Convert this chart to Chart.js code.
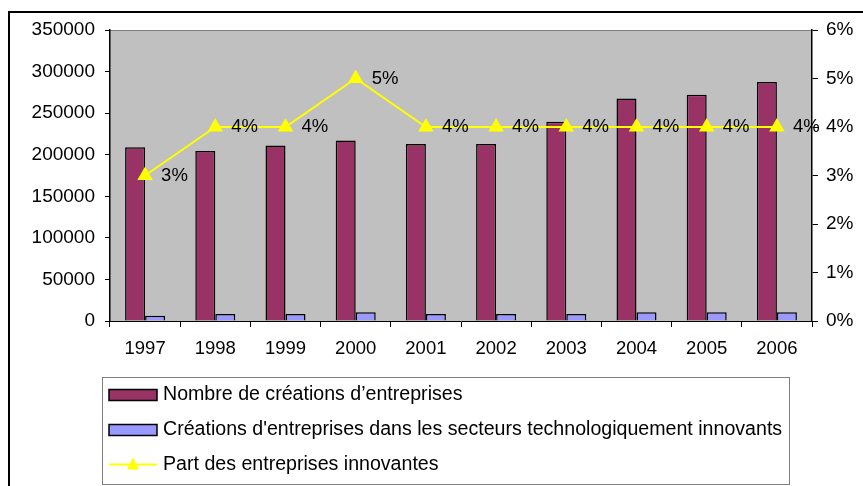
<!DOCTYPE html>
<html>
<head>
<meta charset="utf-8">
<script src="https://cdn.jsdelivr.net/npm/chart.js@4.4.0/dist/chart.umd.min.js"></script>
<style>
  html, body { margin: 0; padding: 0; background: #fff; }
  #wrap { width: 863px; height: 486px; position: relative; }
</style>
</head>
<body>
<div id="wrap"><canvas id="chart" width="863" height="486"></canvas></div>
<script>
const years = ["1997", "1998", "1999", "2000", "2001", "2002", "2003", "2004", "2005", "2006"];
const creations = [209000, 204500, 211000, 217000, 213000, 213000, 239500, 267500, 272000, 287500];
const creationsInnov = [6400, 8400, 8400, 10500, 8400, 8400, 8400, 10500, 10500, 10500];
const partInnov = [3, 4, 4, 5, 4, 4, 4, 4, 4, 4];
const seriesNames = [
    "Nombre de créations d’entreprises",
    "Créations d'entreprises dans les secteurs technologiquement innovants",
    "Part des entreprises innovantes"
];

const FONT = "'Liberation Sans', Arial, sans-serif";

// grey plot background + outer frame
const backdrop = {
    id: "backdrop",
    beforeDraw(chart) {
        const { ctx, chartArea: a } = chart;
        ctx.save();
        ctx.fillStyle = "#fff";
        ctx.fillRect(0, 0, chart.width, chart.height);
        ctx.strokeStyle = "#000";
        ctx.lineWidth = 2;
        ctx.strokeRect(9, 12, 880, 500);
        ctx.fillStyle = "#C0C0C0";
        ctx.fillRect(a.left, a.top, a.right - a.left, a.bottom - a.top);
        ctx.strokeStyle = "#808080";
        ctx.lineWidth = 1;
        ctx.beginPath();
        ctx.moveTo(a.left, a.top + 0.5);
        ctx.lineTo(a.right, a.top + 0.5);
        ctx.stroke();
        ctx.restore();
    }
};

// percent labels next to the line points
const pointLabels = {
    id: "pointLabels",
    afterDatasetsDraw(chart) {
        const { ctx } = chart;
        const meta = chart.getDatasetMeta(2);
        ctx.save();
        ctx.font = "18.5px " + FONT;
        ctx.fillStyle = "#000";
        ctx.textBaseline = "middle";
        ctx.textAlign = "left";
        meta.data.forEach((p, i) => {
            ctx.fillText(partInnov[i] + "%", p.x + 16, p.y);
        });
        ctx.restore();
    }
};

// boxed legend under the chart
const boxLegend = {
    id: "boxLegend",
    afterDraw(chart) {
        const { ctx } = chart;
        const ds = chart.data.datasets;
        ctx.save();
        ctx.strokeStyle = "#808080";
        ctx.lineWidth = 1;
        ctx.strokeRect(102.5, 377.5, 687, 107);
        const rows = [395, 430, 464.5];
        ctx.font = "19.6px " + FONT;
        ctx.textBaseline = "middle";
        ds.forEach((d, i) => {
            const y = rows[i];
            if (d.type === "line") {
                ctx.strokeStyle = d.borderColor;
                ctx.lineWidth = 2;
                ctx.beginPath();
                ctx.moveTo(109, y);
                ctx.lineTo(157, y);
                ctx.stroke();
                ctx.fillStyle = d.pointBackgroundColor;
                ctx.beginPath();
                ctx.moveTo(133, y - 7);
                ctx.lineTo(139, y + 5);
                ctx.lineTo(127, y + 5);
                ctx.closePath();
                ctx.fill();
            } else {
                ctx.fillStyle = d.backgroundColor;
                ctx.fillRect(109, y - 5.5, 48, 11);
                ctx.strokeStyle = "#000";
                ctx.lineWidth = 1.5;
                ctx.strokeRect(109, y - 5.5, 48, 11);
            }
            ctx.fillStyle = "#000";
            ctx.fillText(d.label, 163, y);
        });
        ctx.restore();
    }
};

new Chart(document.getElementById("chart"), {
    data: {
        labels: years,
        datasets: [
            {
                type: "bar",
                label: seriesNames[0],
                data: creations,
                backgroundColor: "#993366",
                borderColor: "#000",
                borderWidth: 1.5,
                yAxisID: "y",
                order: 1
            },
            {
                type: "bar",
                label: seriesNames[1],
                data: creationsInnov,
                backgroundColor: "#9999FF",
                borderColor: "#000",
                borderWidth: 1.5,
                yAxisID: "y",
                order: 1
            },
            {
                type: "line",
                label: seriesNames[2],
                data: partInnov,
                borderColor: "#FFFF00",
                borderWidth: 2,
                pointStyle: "triangle",
                pointRadius: 7,
                pointBackgroundColor: "#FFFF00",
                pointBorderColor: "#FFFF00",
                yAxisID: "y1",
                order: 0
            }
        ]
    },
    options: {
        responsive: false,
        animation: false,
        datasets: {
            bar: { categoryPercentage: 0.57, barPercentage: 1.0 }
        },
        layout: { padding: { left: 0, right: 0, top: 30, bottom: 125 } },
        plugins: {
            legend: { display: false },
            tooltip: { enabled: false }
        },
        scales: {
            x: {
                afterFit(s) { s.height = 40; },
                grid: { drawOnChartArea: false, drawTicks: true, tickLength: 6, color: "#000", offset: true },
                border: { color: "#000", width: 1 },
                ticks: { color: "#000", font: { family: FONT, size: 18.5 }, padding: 11, maxRotation: 0 }
            },
            y: {
                position: "left",
                min: 0,
                max: 350000,
                afterFit(s) { s.width = 110; },
                grid: { drawOnChartArea: false, tickLength: 5, color: "#000" },
                border: { color: "#000", width: 1.5 },
                ticks: {
                    stepSize: 50000,
                    color: "#000",
                    font: { family: FONT, size: 19 },
                    padding: 10,
                    callback: v => String(v)
                }
            },
            y1: {
                position: "right",
                min: 0,
                max: 6,
                afterFit(s) { s.width = 51; },
                grid: { drawOnChartArea: false, tickLength: 6, color: "#000" },
                border: { color: "#000", width: 1.5 },
                ticks: {
                    stepSize: 1,
                    color: "#000",
                    font: { family: FONT, size: 19 },
                    padding: 8,
                    callback: v => v + "%"
                }
            }
        }
    },
    plugins: [backdrop, pointLabels, boxLegend]
});
</script>
</body>
</html>
